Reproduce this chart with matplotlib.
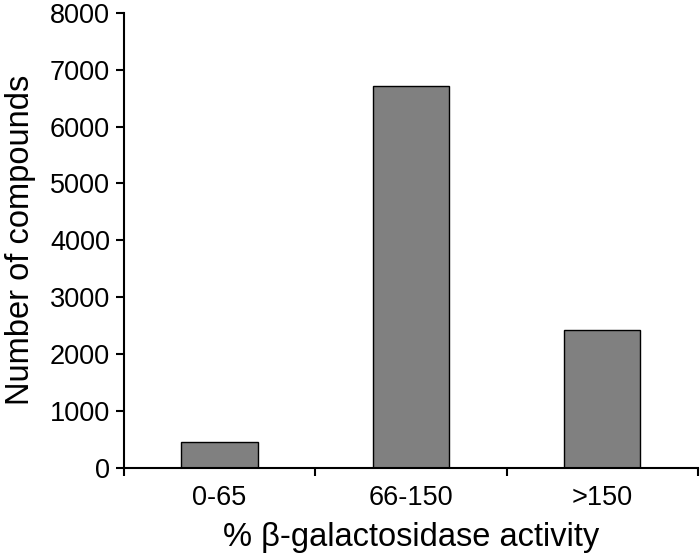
import numpy as np
import matplotlib
matplotlib.use('Agg')
import matplotlib.pyplot as plt

categories = ['0-65', '66-150', '>150']
counts = [460, 6720, 2420]
yticks = [0, 1000, 2000, 3000, 4000, 5000, 6000, 7000, 8000]

plt.rcParams['font.family'] = ['Liberation Sans', 'DejaVu Sans']

fig = plt.figure(figsize=(7, 5.59), dpi=100)
ax = fig.add_axes([0.177, 0.163, 0.82, 0.814])

x = np.arange(1, len(categories) + 1)
ax.bar(x, counts, width=0.4, color='#808080', edgecolor='black', linewidth=1.0)

ax.set_xlim(0.5, len(categories) + 0.5)
ax.set_ylim(0, 8000)
ax.set_yticks(yticks)
ax.set_yticklabels([str(v) for v in yticks])

# ticks sit between categories, labels in the middle
ax.set_xticks(np.arange(0.5, len(categories) + 1, 1.0))
ax.set_xticklabels([])
ax.set_xticks(x, minor=True)
ax.set_xticklabels(categories, minor=True)
ax.tick_params(axis='x', which='minor', length=0, pad=12)
ax.tick_params(axis='x', which='major', direction='out', length=6, width=1.5)
ax.tick_params(axis='y', direction='out', length=6, width=1.5, pad=4)
ax.tick_params(axis='both', which='both', labelsize=19.5)

for s in ['top', 'right']:
    ax.spines[s].set_visible(False)
for s in ['left', 'bottom']:
    ax.spines[s].set_linewidth(1.5)

ax.set_ylabel('Number of compounds', fontsize=23.5, labelpad=10)
ax.set_xlabel('% β-galactosidase activity', fontsize=23.5, labelpad=8)

fig.savefig('out.png', dpi=100)
